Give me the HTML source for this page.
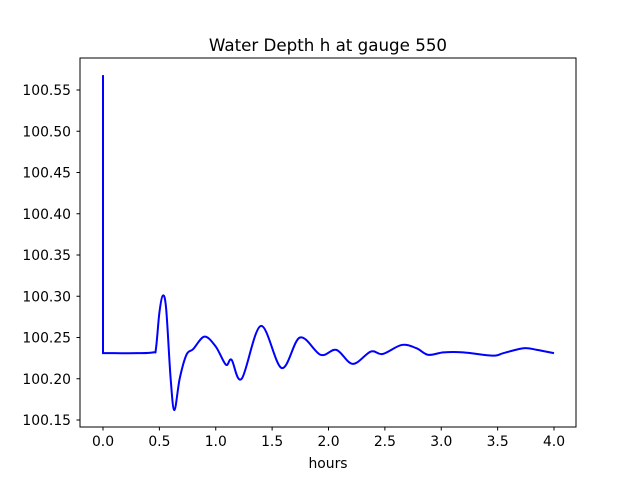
<!DOCTYPE html>
<html><head><meta charset="utf-8"><style>
body{margin:0;background:#fff}
svg text{font-family:"DejaVu Sans","Liberation Sans",sans-serif;fill:#000}
</style></head><body>
<svg id="c" width="640" height="480" viewBox="0 0 640 480">
<rect width="640" height="480" fill="#fff"/>
<text x="328" y="51" font-size="16.7" text-anchor="middle">Water Depth h at gauge 550</text>
<text x="328" y="468" font-size="13.9" text-anchor="middle">hours</text>
<g id="ticks"></g>
<path id="line" fill="none" stroke="#0000ff" stroke-width="2"/>
<rect x="80" y="58" width="496" height="369" fill="none" stroke="#000" stroke-width="1"/>
</svg>
<script>
const hours=[0,0,0.1,0.3,0.446,0.47,0.5,0.53,0.56,0.6,0.633,0.68,0.74,0.8,0.9,1.0,1.09,1.14,1.23,1.4,1.585,1.747,1.93,2.07,2.215,2.375,2.48,2.65,2.78,2.885,3.02,3.195,3.456,3.55,3.73,3.85,4.0];
const depth=[100.568,100.231,100.231,100.231,100.232,100.237,100.28,100.3007,100.285,100.2,100.162,100.2,100.229,100.236,100.251,100.239,100.217,100.223,100.200,100.264,100.213,100.250,100.229,100.235,100.218,100.233,100.230,100.241,100.237,100.229,100.232,100.232,100.228,100.231,100.237,100.235,100.231];
const xTicks=[0,0.5,1,1.5,2,2.5,3,3.5,4];
const yTicks=[100.15,100.2,100.25,100.3,100.35,100.4,100.45,100.5,100.55];
const sx=v=>103+v*112.75;
const sy=v=>420-(v-100.15)*825;
const NS="http://www.w3.org/2000/svg";
const g=document.getElementById('ticks');
function mk(t,a){const e=document.createElementNS(NS,t);for(const k in a)e.setAttribute(k,a[k]);g.appendChild(e);return e;}
xTicks.forEach(v=>{
 const l=mk('line',{x1:sx(v),x2:sx(v),y1:427,y2:430.5,stroke:'#000'});
 
 
 const t=mk('text',{x:sx(v),y:446,'font-size':13.9,'text-anchor':'middle'});
 t.textContent=v.toFixed(1);
 
 
});
yTicks.forEach(v=>{
 const l=mk('line',{x1:76.5,x2:80,y1:sy(v),y2:sy(v),stroke:'#000'});
 
 
 const t=mk('text',{x:71,y:sy(v)+5,'font-size':13.9,'text-anchor':'end'});
 t.textContent=v.toFixed(2);
 
 
});
const P=hours.map((h,i)=>[sx(h),sy(depth[i])]);
let d=`M${P[0][0]},${P[0][1]} L${P[1][0]},${P[1][1]}`;
for(let i=1;i<P.length-1;i++){
 const p0=P[Math.max(i-1,1)],p1=P[i],p2=P[i+1],p3=P[Math.min(i+2,P.length-1)];
 const c1=[p1[0]+(p2[0]-p0[0])/6,p1[1]+(p2[1]-p0[1])/6];
 const c2=[p2[0]-(p3[0]-p1[0])/6,p2[1]-(p3[1]-p1[1])/6];
 d+=` C${c1[0]},${c1[1]} ${c2[0]},${c2[1]} ${p2[0]},${p2[1]}`;
}
document.getElementById('line').setAttribute('d',d);
</script>
</body></html>
